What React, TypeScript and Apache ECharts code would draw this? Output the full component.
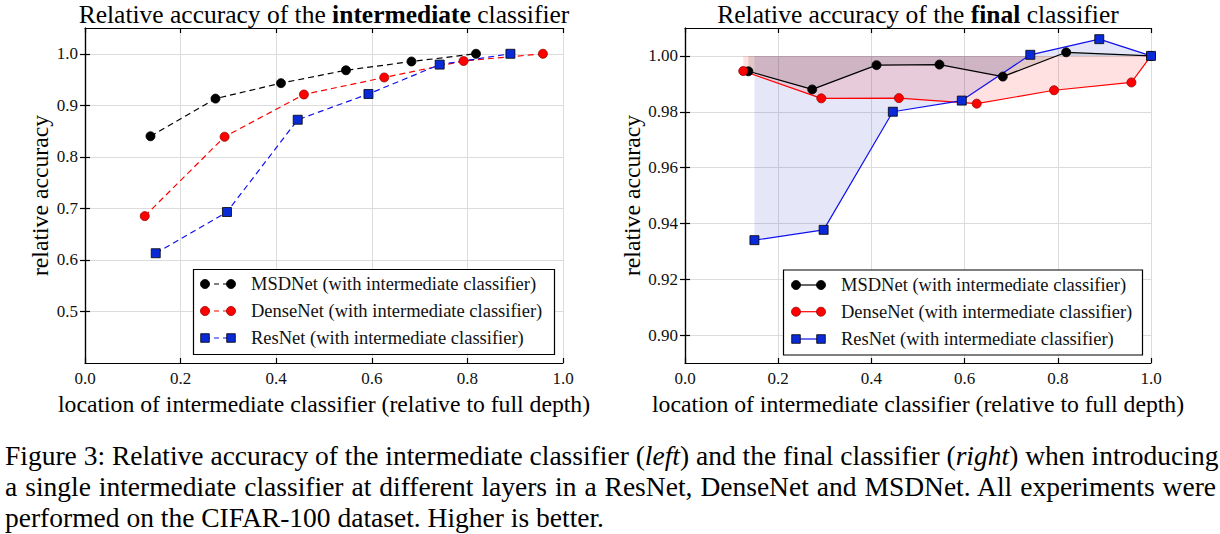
import React, { useEffect, useRef } from "react";
import * as echarts from "echarts";

const SERIES_NAMES = [
  "MSDNet (with intermediate classifier)",
  "DenseNet (with intermediate classifier)",
  "ResNet (with intermediate classifier)",
];
const X_TICKS = [0, 0.2, 0.4, 0.6, 0.8, 1.0];
const LEFT_Y_TICKS = [0.5, 0.6, 0.7, 0.8, 0.9, 1.0];
const RIGHT_Y_TICKS = [0.9, 0.92, 0.94, 0.96, 0.98, 1.0];

const leftMsdX = [0.137, 0.273, 0.41, 0.546, 0.683, 0.818];
const leftMsdY = [0.84, 0.913, 0.943, 0.968, 0.985, 1.0];
const leftDenseX = [0.125, 0.292, 0.458, 0.626, 0.792, 0.958];
const leftDenseY = [0.685, 0.839, 0.921, 0.954, 0.986, 1.0];
const leftResX = [0.148, 0.297, 0.445, 0.593, 0.742, 0.89];
const leftResY = [0.613, 0.693, 0.872, 0.922, 0.979, 1.0];

const rightMsdX = [0.136, 0.273, 0.411, 0.546, 0.682, 0.818, 1.0];
const rightMsdY = [0.9945, 0.988, 0.9967, 0.9969, 0.9926, 1.0013, 1.0];
const rightDenseX = [0.125, 0.2925, 0.459, 0.626, 0.792, 0.958, 1.0];
const rightDenseY = [0.9946, 0.9848, 0.9849, 0.9829, 0.9877, 0.9905, 1.0];
const rightResX = [0.149, 0.2975, 0.446, 0.594, 0.741, 0.889, 1.0];
const rightResY = [0.934, 0.9377, 0.98, 0.984, 1.0004, 1.006, 1.0];
const BASELINE = 1.0;

const CAPTION_LINES = [
  ["Figure 3: Relative accuracy of the intermediate classifier (", "left", ") and the final classifier (", "right", ") when introducing"],
  ["a single intermediate classifier at different layers in a ResNet, DenseNet and MSDNet.  All experiments were"],
  ["performed on the CIFAR-100 dataset. Higher is better."],
];

const FONT = "'Liberation Serif', 'Times New Roman', serif";
const BLACK = "#000000";
const RED = "#ff0000";
const BLUE_LINE = "#1010ee";
const BLUE_MARK = "#0a2ad8";

const zip = (xs: number[], ys: number[]) => xs.map((x, i) => [x, ys[i]]);

const G0 = { left: 85, top: 28, width: 478, height: 335 };
const G1 = { left: 685, top: 28, width: 466, height: 335 };

function xAxes(gridIndex: number, nameGap: number) {
  const common = {
    gridIndex,
    type: "value",
    min: 0,
    max: 1,
    interval: 0.2,
    axisLine: { show: true, lineStyle: { color: BLACK, width: 1.2 } },
    axisTick: { show: true, inside: true, length: 5, lineStyle: { color: BLACK, width: 1.2 } },
  };
  return [
    {
      ...common,
      position: "bottom",
      name: "location of intermediate classifier (relative to full depth)",
      nameLocation: "middle",
      nameGap,
      nameTextStyle: { fontFamily: FONT, fontSize: 23.7, color: BLACK },
      axisLabel: {
        margin: 7,
        fontFamily: FONT,
        fontSize: 17,
        color: "#111",
        formatter: (v: number) => v.toFixed(1),
      },
      splitLine: { show: true, lineStyle: { color: "#dcdcdc", width: 1 } },
    },
    {
      ...common,
      position: "top",
      axisLabel: { show: false },
      splitLine: { show: false },
    },
  ];
}

function yAxes(gridIndex: number, min: number, max: number, ticks: number[], digits: number, nameGap: number) {
  const common = {
    gridIndex,
    type: "value",
    min,
    max,
    splitNumber: 6,
    axisLine: { show: true, lineStyle: { color: BLACK, width: 1.2 } },
    axisTick: { show: true, inside: true, length: 5, customValues: ticks, lineStyle: { color: BLACK, width: 1.2 } },
  };
  return [
    {
      ...common,
      position: "left",
      name: "relative accuracy",
      nameLocation: "middle",
      nameRotate: 90,
      nameGap,
      nameTextStyle: { fontFamily: FONT, fontSize: 23.7, color: BLACK },
      axisLabel: {
        margin: 7,
        fontFamily: FONT,
        fontSize: 17,
        color: "#111",
        customValues: ticks,
        formatter: (v: number) => v.toFixed(digits),
      },
      splitLine: { show: true, lineStyle: { color: "#dcdcdc", width: 1 } },
    },
    {
      ...common,
      position: "right",
      axisLabel: { show: false },
      splitLine: { show: false },
    },
  ];
}

function lineSeries(
  name: string,
  xi: number,
  yi: number,
  data: number[][],
  color: string,
  symbol: string,
  markColor: string,
  border: string,
  dashed: boolean,
  size: number
) {
  return {
    name,
    type: "line",
    xAxisIndex: xi,
    yAxisIndex: yi,
    data,
    z: 5,
    symbol,
    symbolSize: size,
    showSymbol: true,
    lineStyle: { color, width: 1.2, type: dashed ? [6, 4] : "solid" },
    itemStyle: { color: markColor, borderColor: border, borderWidth: 0.8 },
    emphasis: { disabled: true },
  };
}

function fillSeries(xi: number, yi: number, data: number[][], fill: string) {
  return {
    type: "line",
    xAxisIndex: xi,
    yAxisIndex: yi,
    data,
    z: 2,
    symbol: "none",
    showSymbol: false,
    lineStyle: { width: 0, opacity: 0 },
    areaStyle: { color: fill, origin: BASELINE },
    emphasis: { disabled: true },
    silent: true,
  };
}

function legendGraphic(
  boxLeft: number,
  boxTop: number,
  boxRight: number,
  boxBottom: number,
  rowsY: number[],
  m1: number,
  m2: number,
  textX: number,
  dashed: boolean
) {
  const els: any[] = [
    {
      type: "rect",
      shape: { x: boxLeft, y: boxTop, width: boxRight - boxLeft, height: boxBottom - boxTop },
      style: { fill: "#ffffff", stroke: BLACK, lineWidth: 1.2 },
      z: 20,
    },
  ];
  const styles = [
    { line: BLACK, fill: BLACK, stroke: BLACK, shape: "circle" },
    { line: RED, fill: RED, stroke: "#990000", shape: "circle" },
    { line: BLUE_LINE, fill: BLUE_MARK, stroke: BLACK, shape: "rect" },
  ];
  rowsY.forEach((y, i) => {
    const s = styles[i];
    els.push({
      type: "line",
      shape: { x1: m1, y1: y, x2: m2, y2: y },
      style: { stroke: s.line, lineWidth: 1.2, lineDash: dashed ? [5, 4] : null },
      z: 21,
    });
    [m1, m2].forEach((mx) => {
      if (s.shape === "circle") {
        els.push({
          type: "circle",
          shape: { cx: mx, cy: y, r: 4.5 },
          style: { fill: s.fill, stroke: s.stroke, lineWidth: 0.8 },
          z: 22,
        });
      } else {
        els.push({
          type: "rect",
          shape: { x: mx - 4.3, y: y - 4.3, width: 8.6, height: 8.6 },
          style: { fill: s.fill, stroke: s.stroke, lineWidth: 0.8 },
          z: 22,
        });
      }
    });
    els.push({
      type: "text",
      x: textX,
      y,
      style: {
        text: SERIES_NAMES[i],
        fontFamily: FONT,
        fontSize: 18.5,
        fill: "#111",
        align: "left",
        verticalAlign: "middle",
      },
      z: 22,
    });
  });
  return els;
}

function titleGraphic(cx: number, before: string, bold: string, after: string) {
  return {
    type: "text",
    x: cx,
    y: 14,
    style: {
      text: `{n|${before}}{b|${bold}}{n|${after}}`,
      align: "center",
      verticalAlign: "middle",
      rich: {
        n: { fontFamily: FONT, fontSize: 25.5, fill: BLACK, fontWeight: "normal" },
        b: { fontFamily: FONT, fontSize: 25.5, fill: BLACK, fontWeight: "bold" },
      },
    },
  };
}

export default function App() {
  const ref = useRef<HTMLDivElement>(null);

  useEffect(() => {
    if (!ref.current) return;
    const chart = echarts.init(ref.current, null, { renderer: "svg" });
    const option: any = {
      animation: false,
      backgroundColor: "#ffffff",
      grid: [
        { ...G0, containLabel: false },
        { ...G1, containLabel: false },
      ],
      xAxis: [...xAxes(0, 28), ...xAxes(1, 28)],
      yAxis: [
        ...yAxes(0, 0.4, 1.05, LEFT_Y_TICKS, 1, 33),
        ...yAxes(1, 0.89, 1.01, RIGHT_Y_TICKS, 2, 41),
      ],
      series: [
        lineSeries(SERIES_NAMES[0], 0, 0, zip(leftMsdX, leftMsdY), BLACK, "circle", BLACK, BLACK, true, 9),
        lineSeries(SERIES_NAMES[1], 0, 0, zip(leftDenseX, leftDenseY), RED, "circle", RED, "#990000", true, 9),
        lineSeries(SERIES_NAMES[2], 0, 0, zip(leftResX, leftResY), BLUE_LINE, "rect", BLUE_MARK, BLACK, true, 9),
        fillSeries(2, 2, zip(rightResX, rightResY), "rgba(30,50,200,0.17)"),
        fillSeries(2, 2, zip(rightDenseX, rightDenseY), "rgba(255,0,0,0.17)"),
        fillSeries(2, 2, zip(rightMsdX, rightMsdY), "rgba(0,0,0,0.15)"),
        lineSeries(SERIES_NAMES[0], 2, 2, zip(rightMsdX, rightMsdY), BLACK, "circle", BLACK, BLACK, false, 9),
        lineSeries(SERIES_NAMES[1], 2, 2, zip(rightDenseX, rightDenseY), RED, "circle", RED, "#990000", false, 9),
        lineSeries(SERIES_NAMES[2], 2, 2, zip(rightResX, rightResY), BLUE_LINE, "rect", BLUE_MARK, BLACK, false, 9),
      ],
      graphic: [
        titleGraphic(324, "Relative accuracy of the ", "intermediate", " classifier"),
        titleGraphic(918, "Relative accuracy of the ", "final", " classifier"),
        ...legendGraphic(193.5, 269.5, 554.5, 354.5, [284, 311, 338], 205, 231, 251, true),
        ...legendGraphic(783.5, 270, 1142.5, 355, [285, 311.7, 339], 796, 821, 841, false),
      ],
    };
    chart.setOption(option);
    return () => chart.dispose();
  }, []);

  return (
    <div style={{ position: "absolute", left: 0, top: 0, width: 1220, height: 534, background: "#fff" }}>
      <div ref={ref} style={{ position: "absolute", left: 0, top: 0, width: 1220, height: 430 }} />
      <div
        style={{
          position: "absolute",
          left: 5,
          top: 440,
          width: 1211,
          fontFamily: FONT,
          fontSize: 27.5,
          lineHeight: "31px",
          color: "#000",
        }}
      >
        {CAPTION_LINES.map((parts, li) => (
          <div
            key={li}
            style={{
              textAlign: li < 2 ? "justify" : "left",
              textAlignLast: li < 2 ? "justify" : "left",
              whiteSpace: "nowrap",
            }}
          >
            {parts.map((p, pi) => (pi % 2 === 1 ? <i key={pi}>{p}</i> : <span key={pi}>{p}</span>))}
          </div>
        ))}
      </div>
    </div>
  );
}
